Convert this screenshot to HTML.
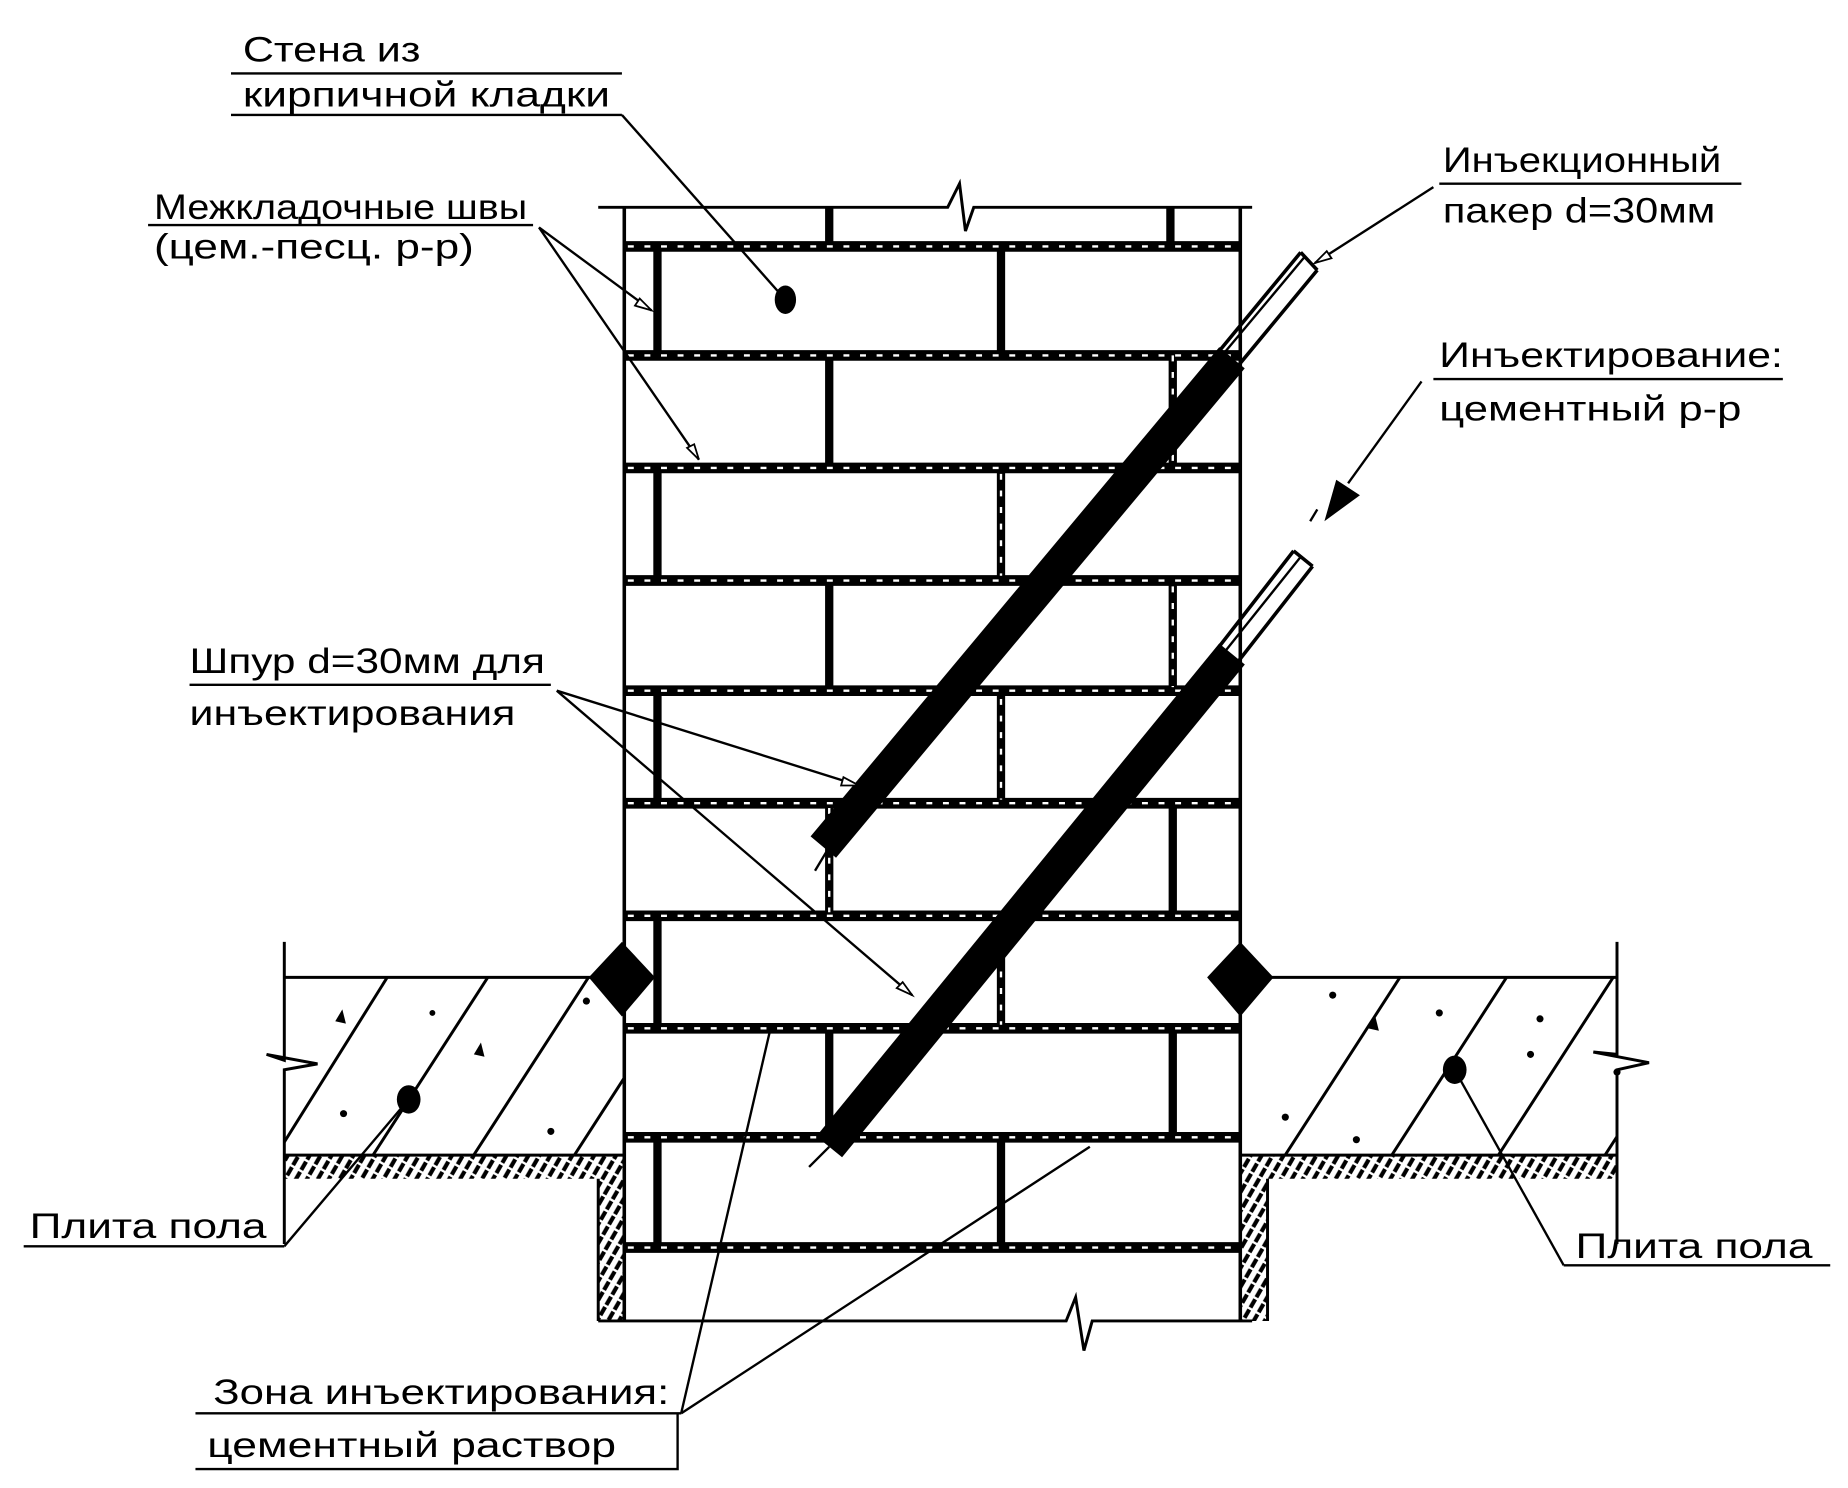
<!DOCTYPE html>
<html><head><meta charset="utf-8"><style>
html,body{margin:0;padding:0;background:#fff;}
svg{display:block;}
text{font-family:"Liberation Sans","DejaVu Sans",sans-serif;font-size:30px;fill:#000;}
</style></head><body>
<svg width="1848" height="1488" viewBox="0 0 1560 1256" preserveAspectRatio="none" xmlns="http://www.w3.org/2000/svg">
<defs>
<clipPath id="slabL"><rect x="240" y="825" width="287" height="150"/></clipPath>
<clipPath id="slabR"><rect x="1047" y="825" width="318" height="150"/></clipPath>
<pattern id="hat" width="8" height="10" patternUnits="userSpaceOnUse" patternTransform="rotate(30)">
<line x1="2" y1="0" x2="2" y2="10" stroke="#000" stroke-width="3.5" stroke-dasharray="8 2"/>
</pattern>
</defs>
<rect width="1560" height="1256" fill="#fff"/>

<path d="M240 975 H527 V1115 H505 V995 H240 Z" fill="url(#hat)"/>
<path d="M1047 975 H1365 V995 H1070 V1115 H1047 Z" fill="url(#hat)"/>
<g stroke="#000" stroke-width="2.5" fill="none">
<path d="M240 795 V895 L225 890 L268 898 L240 903 V1050"/>
<line x1="240" y1="825" x2="527" y2="825"/>
<line x1="240" y1="975" x2="527" y2="975"/>
<path d="M505 995 V1115"/>
<path d="M1365 795 V890 L1345 888 L1392 897 L1365 903 V1050"/>
<line x1="1047" y1="825" x2="1365" y2="825"/>
<line x1="1047" y1="975" x2="1365" y2="975"/>
<path d="M1070 995 V1115"/>
</g>
<g clip-path="url(#slabL)" stroke="#000" stroke-width="2.5">
<line x1="180" y1="1060" x2="330" y2="820"/><line x1="260" y1="1060" x2="415" y2="820"/>
<line x1="345" y1="1060" x2="500" y2="820"/><line x1="430" y1="1060" x2="585" y2="820"/>
</g>
<g clip-path="url(#slabR)" stroke="#000" stroke-width="2.5">
<line x1="1030" y1="1060" x2="1185" y2="820"/><line x1="1120" y1="1060" x2="1275" y2="820"/>
<line x1="1210" y1="1060" x2="1365" y2="820"/><line x1="1300" y1="1060" x2="1455" y2="820"/>
</g>
<g fill="#000">
<path d="M283 862 l6 -10 l3 12 z"/><path d="M400 890 l6 -10 l3 12 z"/><circle cx="365" cy="855" r="2.5"/>
<circle cx="495" cy="845" r="3"/><circle cx="465" cy="955" r="3"/><circle cx="290" cy="940" r="3"/>
<path d="M1155 868 l6 -10 l3 12 z"/><circle cx="1125" cy="840" r="3"/><circle cx="1300" cy="860" r="3"/>
<circle cx="1085" cy="943" r="3"/><circle cx="1145" cy="962" r="3"/><circle cx="1292" cy="890" r="3"/>
<circle cx="1215" cy="855" r="3"/><circle cx="1365" cy="905" r="3"/>
<ellipse cx="345" cy="928" rx="10" ry="12"/><ellipse cx="1228" cy="903" rx="10" ry="12"/>
<ellipse cx="663" cy="253" rx="9" ry="12"/>
<path d="M525 795 L553 825 L525 858 L497 825 Z"/>
<path d="M1047 795 L1075 825 L1047 858 L1019 825 Z"/>
</g>

<g stroke="#000" fill="none">
<path d="M505 175 H800 L810 155 L815 195 L822 175 H1057" stroke-width="2.5"/>
<path d="M505 1115 H900 L908 1095 L915 1140 L922 1115 H1057" stroke-width="2.5"/>
<line x1="527" y1="175" x2="527" y2="1115" stroke-width="3"/>
<line x1="1047" y1="175" x2="1047" y2="1115" stroke-width="3"/>
<g stroke-width="9">
<line x1="527" y1="208" x2="1047" y2="208"/><line x1="527" y1="300" x2="1047" y2="300"/>
<line x1="527" y1="395" x2="1047" y2="395"/><line x1="527" y1="490" x2="1047" y2="490"/>
<line x1="527" y1="583" x2="1047" y2="583"/><line x1="527" y1="678" x2="1047" y2="678"/>
<line x1="527" y1="773" x2="1047" y2="773"/><line x1="527" y1="868" x2="1047" y2="868"/>
<line x1="527" y1="960" x2="1047" y2="960"/><line x1="527" y1="1053" x2="1047" y2="1053"/>
</g>
<g stroke-width="7">
<line x1="700" y1="175" x2="700" y2="208"/><line x1="988" y1="175" x2="988" y2="208"/>
<line x1="555" y1="208" x2="555" y2="300"/><line x1="845" y1="208" x2="845" y2="300"/>
<line x1="700" y1="300" x2="700" y2="395"/><line x1="990" y1="300" x2="990" y2="395"/>
<line x1="555" y1="395" x2="555" y2="490"/><line x1="845" y1="395" x2="845" y2="490"/>
<line x1="700" y1="490" x2="700" y2="583"/><line x1="990" y1="490" x2="990" y2="583"/>
<line x1="555" y1="583" x2="555" y2="678"/><line x1="845" y1="583" x2="845" y2="678"/>
<line x1="700" y1="678" x2="700" y2="773"/><line x1="990" y1="678" x2="990" y2="773"/>
<line x1="555" y1="773" x2="555" y2="868"/><line x1="845" y1="773" x2="845" y2="868"/>
<line x1="700" y1="868" x2="700" y2="960"/><line x1="990" y1="868" x2="990" y2="960"/>
<line x1="555" y1="960" x2="555" y2="1053"/><line x1="845" y1="960" x2="845" y2="1053"/>
</g>
<g stroke="#fff" stroke-width="2" stroke-dasharray="5 9">
<line x1="530" y1="300" x2="1044" y2="300"/><line x1="530" y1="395" x2="1044" y2="395"/>
<line x1="530" y1="490" x2="1044" y2="490"/><line x1="530" y1="583" x2="1044" y2="583"/>
<line x1="530" y1="678" x2="1044" y2="678"/><line x1="530" y1="773" x2="1044" y2="773"/>
<line x1="530" y1="868" x2="1044" y2="868"/><line x1="530" y1="960" x2="1044" y2="960"/>
<line x1="530" y1="1053" x2="1044" y2="1053"/><line x1="530" y1="208" x2="1044" y2="208"/>
<line x1="845" y1="400" x2="845" y2="486"/><line x1="990" y1="495" x2="990" y2="580"/>
<line x1="845" y1="590" x2="845" y2="675"/><line x1="700" y1="682" x2="700" y2="770"/>
<line x1="845" y1="778" x2="845" y2="865"/><line x1="990" y1="300" x2="990" y2="392"/>
</g>
</g>

<g stroke="#000" fill="none">
<line x1="695" y1="715" x2="1040" y2="302" stroke-width="28"/>
<line x1="700" y1="968" x2="1040" y2="552" stroke-width="28"/>
<line x1="688" y1="735" x2="700" y2="715" stroke-width="2"/>
<line x1="683" y1="985" x2="700" y2="968" stroke-width="2"/>
<g stroke-width="3">
<path d="M1022 305 L1098 213 M1040 315 L1112 228 M1098 213 L1112 228"/>
<path d="M1030 302 L1102 216" stroke-width="2"/>
<path d="M1022 555 L1092 465 M1040 565 L1108 478 M1092 465 L1108 478"/>
<path d="M1030 555 L1098 470" stroke-width="2"/>
</g>
</g>

<g stroke="#000" stroke-width="2" fill="none">
<line x1="195" y1="62" x2="525" y2="62"/>
<line x1="195" y1="97" x2="525" y2="97"/>
<line x1="525" y1="97" x2="663" y2="253"/>
<line x1="125" y1="190" x2="450" y2="190"/>
<line x1="455" y1="192" x2="550" y2="262"/>
<line x1="455" y1="192" x2="590" y2="388"/>
<line x1="1215" y1="155" x2="1470" y2="155"/>
<line x1="1210" y1="158" x2="1110" y2="222"/>
<line x1="1210" y1="320" x2="1505" y2="320"/>
<line x1="1200" y1="322" x2="1138" y2="408"/>
<line x1="1112" y1="430" x2="1106" y2="440"/>
<line x1="160" y1="578" x2="465" y2="578"/>
<line x1="470" y1="583" x2="725" y2="663"/>
<line x1="470" y1="583" x2="770" y2="840"/>
<line x1="20" y1="1052" x2="240" y2="1052"/>
<line x1="240" y1="1052" x2="345" y2="928"/>
<line x1="1320" y1="1068" x2="1545" y2="1068"/>
<line x1="1320" y1="1068" x2="1228" y2="903"/>
<line x1="165" y1="1193" x2="575" y2="1193"/>
<path d="M165 1240 H572 V1193"/>
<line x1="575" y1="1193" x2="650" y2="870"/>
<line x1="575" y1="1193" x2="920" y2="968"/>
</g>
<g fill="#fff" stroke="#000" stroke-width="1.5">
<path d="M550 262 l-14 -4 l4 -6 z"/><path d="M590 388 l-10 -10 l6 -3 z"/>
<path d="M725 663 l-15 0 l2 -7 z"/><path d="M770 840 l-13 -6 l5 -5 z"/>
<path d="M1110 222 l10 -10 l4 6 z"/>
</g>
<path d="M1118 440 L1128 405 L1148 418 Z" fill="#000"/>

<text x="205" y="52" textLength="150" lengthAdjust="spacingAndGlyphs">Стена из</text>
<text x="205" y="90" textLength="310" lengthAdjust="spacingAndGlyphs">кирпичной кладки</text>
<text x="130" y="185" textLength="315" lengthAdjust="spacingAndGlyphs">Межкладочные швы</text>
<text x="130" y="218" textLength="270" lengthAdjust="spacingAndGlyphs">(цем.-песц. р-р)</text>
<text x="1218" y="145" textLength="235" lengthAdjust="spacingAndGlyphs">Инъекционный</text>
<text x="1218" y="188" textLength="230" lengthAdjust="spacingAndGlyphs">пакер d=30мм</text>
<text x="1215" y="310" textLength="290" lengthAdjust="spacingAndGlyphs">Инъектирование:</text>
<text x="1215" y="355" textLength="255" lengthAdjust="spacingAndGlyphs">цементный р-р</text>
<text x="160" y="568" textLength="300" lengthAdjust="spacingAndGlyphs">Шпур d=30мм для</text>
<text x="160" y="612" textLength="275" lengthAdjust="spacingAndGlyphs">инъектирования</text>
<text x="25" y="1045" textLength="200" lengthAdjust="spacingAndGlyphs">Плита пола</text>
<text x="1330" y="1062" textLength="200" lengthAdjust="spacingAndGlyphs">Плита пола</text>
<text x="180" y="1185" textLength="385" lengthAdjust="spacingAndGlyphs">Зона инъектирования:</text>
<text x="175" y="1230" textLength="345" lengthAdjust="spacingAndGlyphs">цементный раствор</text>
</svg>
</body></html>
